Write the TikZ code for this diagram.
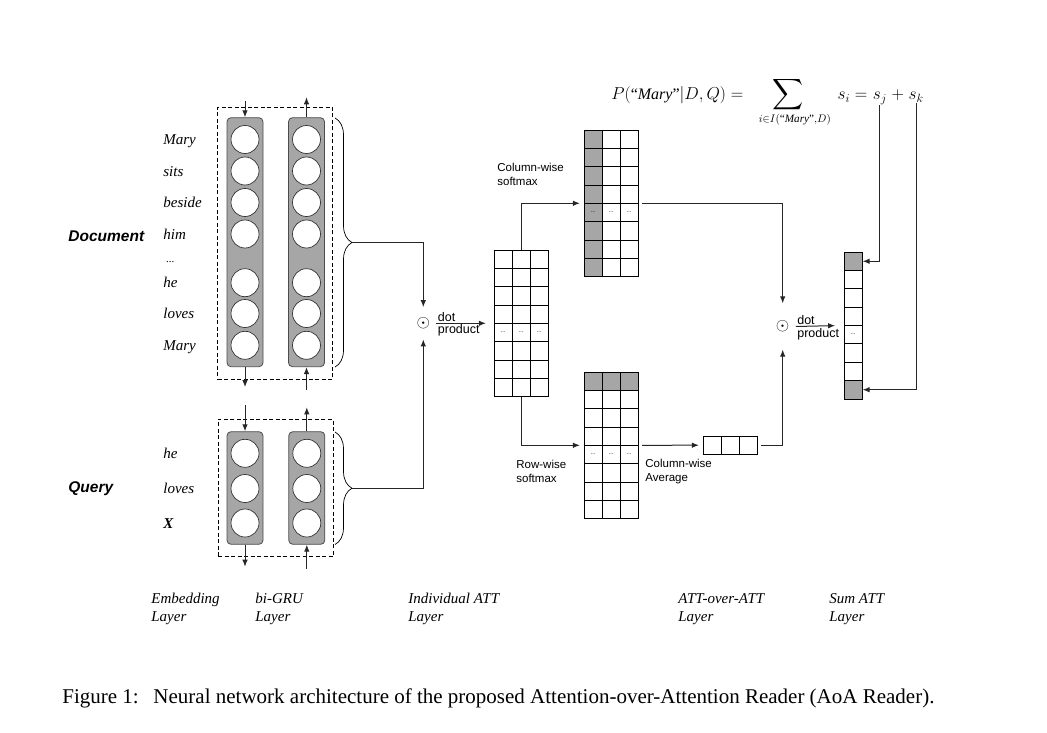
\documentclass[tikz,border=0pt]{standalone}
\usepackage{amsmath}
\usepackage{fontspec}
\setmainfont{Liberation Serif}
\setsansfont{Liberation Sans}
\usetikzlibrary{arrows.meta,positioning,matrix,decorations.pathreplacing}

\begin{document}
\begin{tikzpicture}[x=1pt, y=-1pt, line width=0.8pt, >={Latex[length=7pt,width=5.5pt]},
  word/.style={anchor=base west, inner sep=0pt, font=\fontsize{15}{18}\selectfont\itshape},
  side/.style={anchor=base west, inner sep=0pt, font=\fontsize{15.5}{18}\selectfont\sffamily\bfseries\itshape},
  rnn/.style={draw=black!70, fill=gray!70, rounded corners=4pt, minimum width=36pt, inner sep=0pt},
  unit/.style={circle, draw=black!80, line width=0.7pt, fill=white, minimum size=28pt, inner sep=0pt},
  dbox/.style={draw, dash pattern=on 4pt off 2.5pt, line width=0.7pt, minimum width=115pt, inner sep=0pt},
  cell/.style={draw, inner sep=0pt, minimum width=18pt, minimum height=18.35pt, font=\fontsize{6}{6}\selectfont},
  att/.style={matrix of nodes, nodes in empty cells, nodes={cell}, column sep=-0.8pt, row sep=-0.8pt},
  gcell/.style={fill=gray!70},
  lbl/.style={anchor=north west, align=left, inner sep=0pt, font=\fontsize{11.5}{13.3}\selectfont\sffamily},
  small/.style={inner sep=1pt, font=\fontsize{12.5}{13}\selectfont\sffamily},
  layer/.style={anchor=north west, align=left, inner sep=0pt, font=\fontsize{15}{18}\selectfont\itshape},
  prod/.style={inner xsep=6pt, inner ysep=10pt, font=\fontsize{16}{16}\selectfont},
  eq/.style={inner sep=0pt, font=\fontsize{16}{19}\selectfont},
  brc/.style={decorate, decoration={brace, amplitude=17pt}, line width=0.7pt},
  flow/.style={draw=black!85, line width=1pt}]
\useasboundingbox (0,0) rectangle (1047,733);

% document side
\node[dbox, minimum height=272pt] (docbox) at (275.2,243.3) {};
\node[rnn, minimum height=249pt] (dL) at (245,242.2) {};
\node[rnn, minimum height=249pt] (dR) at (306.5,242.2) {};
\foreach \y/\w [count=\i] in {139.5/Mary,171/sits,202.5/beside,234/him,282.7/he,313.5/loves,345.3/Mary} {
  \node[unit] (du\i) at (245,\y) {};
  \node[unit] (dv\i) at (306.5,\y) {};
  \node[word] (dw\i) at (163,\y+5) {\w};
}
\node[word, font=\fontsize{11}{12}\selectfont\itshape] (ddots) at (166,262) {...};
\node[side] (doc) at (68,241) {Document};
\draw[flow,<-] (dL.north) -- ++(0,-16);
\draw[flow,->] (dR.north) -- ++(0,-20);
\draw[flow,->] (dL.south) -- ++(0,20);
\draw[flow,<-] (dR.south) -- ++(0,23);
\draw[brc] (335,118) -- (335,367);
\coordinate (dtip) at (352,242.5);

% query side
\node[dbox, minimum height=137.4pt] (qbox) at (275.5,488) {};
\node[rnn, minimum height=112.6pt] (qL) at (245,488) {};
\node[rnn, minimum height=112.6pt] (qR) at (306.8,488) {};
\foreach \y/\w [count=\i] in {453.3/he,488.5/loves,523/\textbf{X}} {
  \node[unit] (qu\i) at (245,\y) {};
  \node[unit] (qv\i) at (306.8,\y) {};
  \node[word] (qw\i) at (163,\y+5) {\w};
}
\node[side] (query) at (68,492) {Query};
\draw[flow,<-] (qL.north) -- ++(0,-26);
\draw[flow,->] (qR.north) -- ++(0,-24);
\draw[flow,->] (qL.south) -- ++(0,22);
\draw[flow,<-] (qR.south) -- ++(0,24);
\draw[brc] (335,432) -- (335,544.5);
\coordinate (qtip) at (352,488.3);

% individual attention
\node[prod] (dot1) at (423.3,323.3) {$\odot$};
\draw[flow,->] (dtip) -| (dot1.north);
\draw[flow,->] (qtip) -| (dot1.south);
\matrix (m1) [att] at (521,323.3) {
  & & \\
  & & \\
  & & \\
  & & \\
  ... & ... & ... \\
  & & \\
  & & \\
  & & \\
};
\draw[flow,->,shorten >=4pt] (dot1.east) -- (m1.west)
  node[pos=0, small, anchor=south west] (dl1) {dot}
  node[pos=0, small, anchor=north west] (pl1) {product};

% attention over attention
\matrix (m2) [att] at (611,203.3) {
  |[gcell]| & & \\
  |[gcell]| & & \\
  |[gcell]| & & \\
  |[gcell]| & & \\
  |[gcell]| ... & ... & ... \\
  |[gcell]| & & \\
  |[gcell]| & & \\
  |[gcell]| & & \\
};
\matrix (m3) [att] at (611,445.3) {
  |[gcell]| & |[gcell]| & |[gcell]| \\
  & & \\
  & & \\
  & & \\
  ... & ... & ... \\
  & & \\
  & & \\
  & & \\
};
\matrix (avg) [att] at (730,445.2) {
  & & \\
};
\draw[flow,->] (m1-1-2.north) |- (m2.west);
\draw[flow,->] (m1-8-2.south) |- (m3.west);
\draw[flow,->] (m3.east) -- (avg.west);
\node[lbl] (cws) at (497,163) {Column-wise\\softmax};
\node[lbl] (rws) at (516,460) {Row-wise\\softmax};
\node[lbl] (cwa) at (645,459) {Column-wise\\Average};

% sum attention
\node[prod, inner ysep=17pt] (dot2) at (782.7,326.5) {$\odot$};
\draw[flow,->] (m2.east) -| (dot2.north);
\draw[flow,->] (avg.east) -| (dot2.south);
\matrix (sv) [att] at (853.2,325.5) {
  |[gcell]| \\
  \\
  \\
  \\
  ... \\
  \\
  \\
  |[gcell]| \\
};
\draw[flow,->,shorten >=5pt] (dot2.east) -- (sv.west)
  node[pos=0, small, anchor=south west] (dl2) {dot}
  node[pos=0, small, anchor=north west] (pl2) {product};

% formula
\node[eq, anchor=base west] (lhs) at (611,100) {$P(\text{“}\mathit{Mary}\text{”}|D,Q) = {}$};
\node[eq, base right=10pt of lhs] (sumop) {$\displaystyle\mathop{\scalebox{1.25}{$\displaystyle\sum$}}\limits_{i\in I(\text{“}\mathit{Mary}\text{”},D)}$};
\node[eq, font=\fontsize{17}{19}\selectfont, base right=6pt of sumop] (si) {$s_i = {}$};
\node[eq, font=\fontsize{17}{19}\selectfont, base right=0pt of si] (sj) {$s_j$};
\node[eq, font=\fontsize{17}{19}\selectfont, base right=0pt of sj] (plus) {${}+{}$};
\node[eq, font=\fontsize{17}{19}\selectfont, base right=0pt of plus] (sk) {$s_k$};
\draw[flow,->] (sj.south) |- (sv-1-1.east);
\draw[flow,->] (sk.south) |- (sv-8-1.east);

% layer names
\node[layer] (l1) at (151,593) {Embedding\\Layer};
\node[layer] (l2) at (255,593) {bi-GRU\\Layer};
\node[layer] (l3) at (408,593) {Individual ATT\\Layer};
\node[layer] (l4) at (678,593) {ATT-over-ATT\\Layer};
\node[layer] (l5) at (829,593) {Sum ATT\\Layer};

\node[anchor=west, inner sep=0pt, font=\fontsize{21}{24}\selectfont] (cap) at (62,698)
  {Figure 1:\hspace{0.7em}Neural network architecture of the proposed Attention-over-Attention Reader (AoA Reader).};
\end{tikzpicture}
\end{document}
